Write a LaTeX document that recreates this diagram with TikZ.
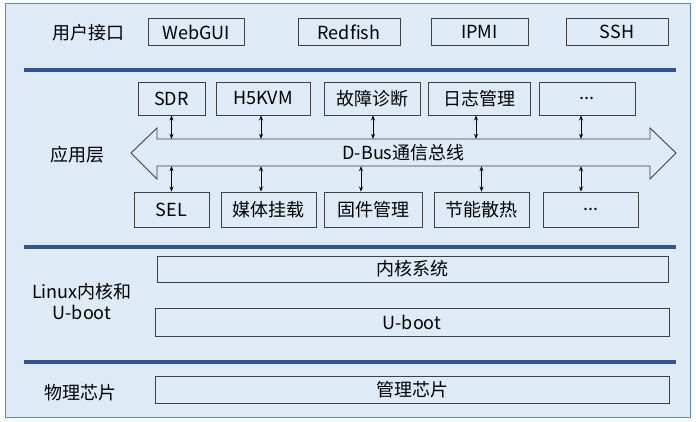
\documentclass[tikz,border=0pt]{standalone}
\usepackage{fontspec}
\setmainfont{Noto Sans CJK SC}
\usetikzlibrary{arrows.meta}
\definecolor{bgblue}{HTML}{DEEAF6}
\definecolor{frameblue}{HTML}{5B86BD}
\definecolor{sepblue}{HTML}{2F5597}
\definecolor{boxgray}{HTML}{404040}

\begin{document}
\begin{tikzpicture}[x=1pt, y=-1pt, font=\fontsize{18}{21}\selectfont,
  box/.style={draw=boxgray, line width=0.9pt, inner sep=0pt},
  sep line/.style={draw=sepblue, line width=4pt},
  link/.style={{Stealth[length=5pt,width=4pt]}-{Stealth[length=5pt,width=4pt]}, line width=0.8pt}]

  \useasboundingbox (0,0) rectangle (696,421);
  \draw[frameblue, fill=bgblue, line width=1pt] (5,3) rectangle (690,417);

  % layer separators
  \draw[sep line] (24,70) -- (676,70);
  \draw[sep line] (24,247) -- (676,247);
  \draw[sep line] (24,362) -- (676,362);

  % user interface
  \node (ui) at (88,33) {用户接口};
  \node[box, minimum width=96, minimum height=27] (webgui) at (196,32) {WebGUI};
  \node[box, minimum width=102, minimum height=27] (redfish) at (349,32) {Redfish};
  \node[box, minimum width=97, minimum height=27] (ipmi) at (479.5,32) {IPMI};
  \node[box, minimum width=102, minimum height=27] (ssh) at (617,32) {SSH};

  % application layer
  \node (app) at (77,155) {应用层};
  \draw[boxgray, fill=bgblue, line width=0.9pt] (131,153) -- (157,128) -- (157,139) -- (650,139)
    -- (650,128) -- (676,153) -- (650,179) -- (650,166) -- (157,166) -- (157,179) -- cycle;
  \node[minimum width=493, minimum height=27, inner sep=0pt] (bus) at (403.5,152.5) {D-Bus通信总线};

  \node[box, minimum width=67, minimum height=33] (sdr) at (171.5,98.5) {SDR};
  \node[box, minimum width=94, minimum height=33] (kvm) at (263,98.5) {H5KVM};
  \node[box, minimum width=96, minimum height=33] (diag) at (372,98.5) {故障诊断};
  \node[box, minimum width=102, minimum height=33] (log) at (479,98.5) {日志管理};
  \node[box, minimum width=96, minimum height=33] (more1) at (587,98.5) {...};

  \node[box, minimum width=75, minimum height=35] (sel) at (171.5,209.5) {SEL};
  \node[box, minimum width=95, minimum height=35] (media) at (268.5,209.5) {媒体挂载};
  \node[box, minimum width=98, minimum height=35] (fw) at (373,209.5) {固件管理};
  \node[box, minimum width=95, minimum height=35] (power) at (481.5,209.5) {节能散热};
  \node[box, minimum width=95, minimum height=35] (more2) at (590.5,209.5) {...};

  \draw[link] (sdr.south) -- (sdr.south |- bus.north);
  \draw[link] ([xshift=-2pt]kvm.south) -- ([xshift=-2pt]kvm.south |- bus.north);
  \draw[link] ([xshift=1pt]diag.south) -- ([xshift=1pt]diag.south |- bus.north);
  \draw[link] ([xshift=-3pt]log.south) -- ([xshift=-3pt]log.south |- bus.north);
  \draw[link] ([xshift=-6pt]more1.south) -- ([xshift=-6pt]more1.south |- bus.north);

  \draw[link] (sel.north) -- (sel.north |- bus.south);
  \draw[link] ([xshift=-7.5pt]media.north) -- ([xshift=-7.5pt]media.north |- bus.south);
  \draw[link] ([xshift=-12pt]fw.north) -- ([xshift=-12pt]fw.north |- bus.south);
  \draw[link] (power.north) -- (power.north |- bus.south);
  \draw[link] ([xshift=-9.5pt]more2.north) -- ([xshift=-9.5pt]more2.north |- bus.south);

  % kernel and u-boot
  \node[align=center] (linux) at (82,302) {Linux内核和\\U-boot};
  \node[box, minimum width=511, minimum height=26] (kernel) at (412.5,269) {内核系统};
  \node[box, minimum width=514, minimum height=28] (uboot) at (412,322) {U-boot};

  % physical chip
  \node (chip) at (80,393) {物理芯片};
  \node[box, minimum width=514, minimum height=27] (bmc) at (412,389.5) {管理芯片};

\end{tikzpicture}
\end{document}
